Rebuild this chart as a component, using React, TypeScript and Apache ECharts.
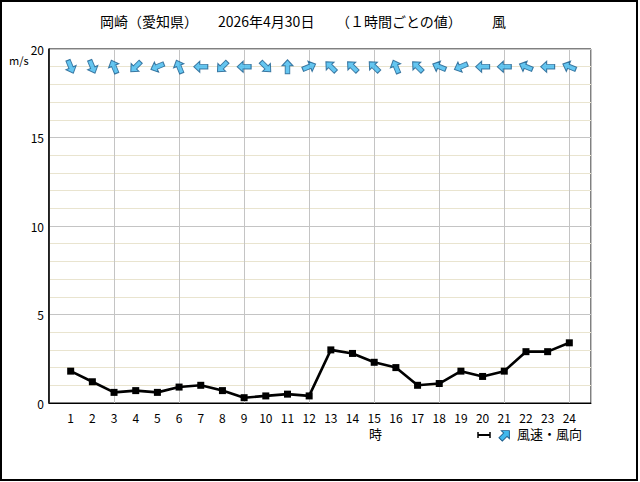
import React, { useEffect, useRef } from "react";
import * as echarts from "echarts";

const hours = [1, 2, 3, 4, 5, 6, 7, 8, 9, 10, 11, 12, 13, 14, 15, 16, 17, 18, 19, 20, 21, 22, 23, 24];
const windSpeed = [1.8, 1.2, 0.6, 0.7, 0.6, 0.9, 1.0, 0.7, 0.3, 0.4, 0.5, 0.4, 3.0, 2.8, 2.3, 2.0, 1.0, 1.1, 1.8, 1.5, 1.8, 2.9, 2.9, 3.4];
// direction the arrow points to (degrees clockwise from north)
const arrowDir = [157.5, 157.5, 337.5, 225, 247.5, 337.5, 270, 225, 270, 135, 0, 67.5, 315, 315, 315, 337.5, 315, 292.5, 247.5, 270, 270, 292.5, 270, 292.5];
const arrowRowValue = 19;
const yTicks = [0, 5, 10, 15, 20];

const ARROW_D = "M6,0 L12,6 L8.5,6 L8.5,14 L3.5,14 L3.5,6 L0,6 Z";
const LEGEND_ARROW_D = "M0,-6.5 L6,-0.5 L2.5,-0.5 L2.5,6.5 L-2.5,6.5 L-2.5,-0.5 L-6,-0.5 Z";
const FONT = "'Noto Sans CJK JP', 'Noto Sans', sans-serif";

export default function App() {
  const ref = useRef<HTMLDivElement>(null);
  useEffect(() => {
    if (!ref.current) return;
    echarts.graphic.registerShape("windArrow", echarts.graphic.extendPath(LEGEND_ARROW_D as any, {}) as any);
    const chart = echarts.init(ref.current, null, { renderer: "svg" });
    const arrowFill = "#3fb8ee";
    const arrowStroke = "#1b5c8c";
    chart.setOption({
      animation: false,
      backgroundColor: "#ffffff",
      grid: { left: 49, top: 49, right: 49, bottom: 79, show: true, borderColor: "#000", borderWidth: 1 },
      xAxis: [
        {
          type: "value",
          min: 0,
          max: 25,
          interval: 1,
          position: "bottom",
          axisLine: { show: true, lineStyle: { color: "#000", width: 1 } },
          axisTick: { show: false },
          splitLine: { show: false },
          axisLabel: {
            color: "#000",
            fontSize: 12,
            fontFamily: FONT,
            margin: 8,
            formatter: (v: number) => (v >= 1 && v <= 24 ? String(v) : ""),
          },
        },
        {
          type: "value",
          min: 0,
          max: 25,
          interval: 3,
          position: "bottom",
          axisLine: { show: false },
          axisTick: { show: false },
          axisLabel: { show: false },
          splitLine: { show: true, lineStyle: { color: "#c4c4c4", width: 1 } },
        },
      ],
      yAxis: {
        type: "value",
        min: yTicks[0],
        max: yTicks[yTicks.length - 1],
        interval: 5,
        axisLine: { show: true, lineStyle: { color: "#000", width: 1.5 } },
        axisTick: { show: false },
        axisLabel: { color: "#000", fontSize: 12, fontFamily: FONT, margin: 5 },
        splitLine: { show: true, lineStyle: { color: "#c4c4c4", width: 1 } },
        minorTick: { show: false, splitNumber: 5 },
        minorSplitLine: { show: true, lineStyle: { color: "#e9e4cf", width: 1 } },
      },
      series: [
        {
          type: "line",
          xAxisIndex: 0,
          data: hours.map((h, i) => [h, windSpeed[i]]),
          symbol: "rect",
          symbolSize: 7,
          lineStyle: { color: "#000", width: 2.6 },
          itemStyle: { color: "#000" },
          z: 3,
        },
        {
          type: "scatter",
          xAxisIndex: 0,
          data: hours.map((h, i) => ({ value: [h, arrowRowValue], symbolRotate: -arrowDir[i] })),
          symbol: "path://" + ARROW_D,
          symbolSize: [11, 14],
          itemStyle: { color: arrowFill, borderColor: arrowStroke, borderWidth: 1 },
          z: 4,
        },
      ],
      graphic: [
        { type: "rect", shape: { x: 1, y: 1, width: 636, height: 479 }, style: { fill: "none", stroke: "#000", lineWidth: 2 }, silent: true },
        { type: "text", x: 100, y: 14, style: { text: "岡崎（愛知県）", fontSize: 14, fontFamily: FONT, fill: "#000" } },
        { type: "text", x: 218, y: 14, style: { text: "2026年4月30日", fontSize: 14, fontFamily: FONT, fill: "#000" } },
        { type: "text", x: 336, y: 14, style: { text: "（１時間ごとの値）", fontSize: 14, fontFamily: FONT, fill: "#000" } },
        { type: "text", x: 492, y: 14, style: { text: "風", fontSize: 14, fontFamily: FONT, fill: "#000" } },
        { type: "text", x: 9, y: 54, style: { text: "m/s", fontSize: 11, fontFamily: FONT, fill: "#000" } },
        { type: "text", x: 369, y: 427, style: { text: "時", fontSize: 13, fontFamily: FONT, fill: "#000" } },
        { type: "line", shape: { x1: 478, y1: 435, x2: 490, y2: 435 }, style: { stroke: "#000", lineWidth: 2 } },
        { type: "line", shape: { x1: 478, y1: 432, x2: 478, y2: 438 }, style: { stroke: "#000", lineWidth: 1.5 } },
        { type: "line", shape: { x1: 490, y1: 432, x2: 490, y2: 438 }, style: { stroke: "#000", lineWidth: 1.5 } },
        {
          type: "windArrow",
          x: 505,
          y: 435,
          rotation: -Math.PI / 4,
          scaleX: 0.95,
          scaleY: 0.95,
          style: { fill: arrowFill, stroke: arrowStroke, lineWidth: 1 },
        } as any,
        { type: "text", x: 517, y: 427, style: { text: "風速・風向", fontSize: 13, fontFamily: FONT, fill: "#000" } },
      ],
    });
    return () => chart.dispose();
  }, []);
  return <div ref={ref} style={{ position: "absolute", left: 0, top: 0, width: 640, height: 482 }} />;
}
